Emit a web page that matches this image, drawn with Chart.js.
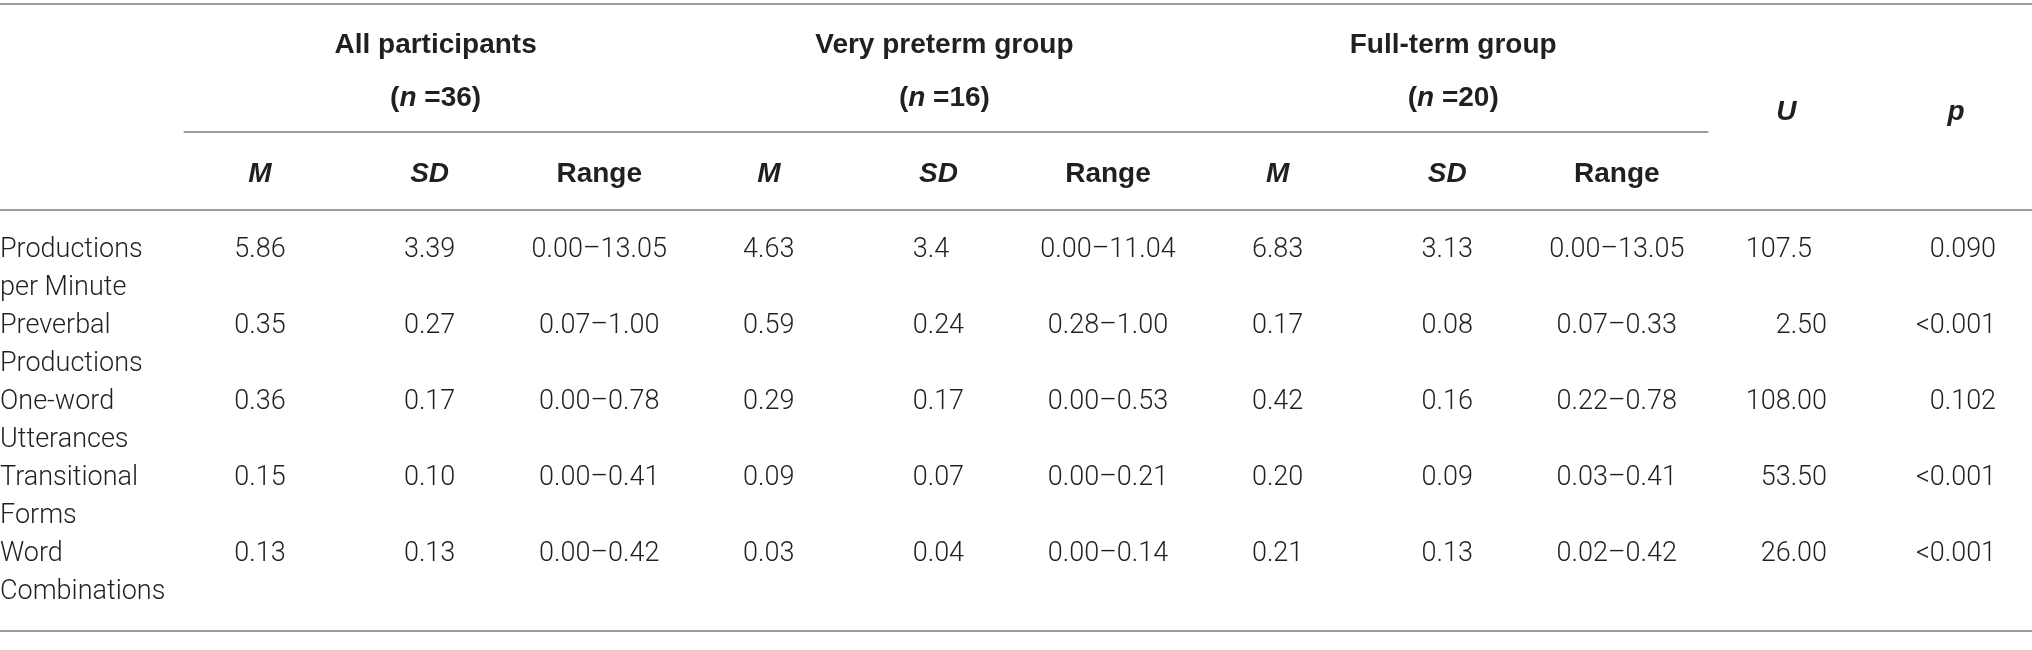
<!DOCTYPE html>
<html>
<head>
<meta charset="utf-8">
<script src="https://cdn.jsdelivr.net/npm/chart.js@4.4.1/dist/chart.umd.min.js"></script>
<style>
    html, body { margin: 0; padding: 0; background: #fff; }
    canvas { display: block; }
</style>
</head>
<body>
<canvas id="table" width="2032" height="650"></canvas>
<script>
// table content
const rowLabels = [
    ["Productions", "per Minute"],
    ["Preverbal", "Productions"],
    ["One-word", "Utterances"],
    ["Transitional", "Forms"],
    ["Word", "Combinations"],
];
const groupNames = ["All participants", "Very preterm group", "Full-term group"];
const groupSizes = [36, 16, 20];

const allM = ["5.86", "0.35", "0.36", "0.15", "0.13"];
const allSD = ["3.39", "0.27", "0.17", "0.10", "0.13"];
const allRange = ["0.00–13.05", "0.07–1.00", "0.00–0.78", "0.00–0.41", "0.00–0.42"];
const pretermM = ["4.63", "0.59", "0.29", "0.09", "0.03"];
const pretermSD = ["3.4", "0.24", "0.17", "0.07", "0.04"];
const pretermRange = ["0.00–11.04", "0.28–1.00", "0.00–0.53", "0.00–0.21", "0.00–0.14"];
const fulltermM = ["6.83", "0.17", "0.42", "0.20", "0.21"];
const fulltermSD = ["3.13", "0.08", "0.16", "0.09", "0.13"];
const fulltermRange = ["0.00–13.05", "0.07–0.33", "0.22–0.78", "0.03–0.41", "0.02–0.42"];
const uValues = ["107.5", "2.50", "108.00", "53.50", "26.00"];
const pValues = ["0.090", "<0.001", "0.102", "<0.001", "<0.001"];

// numbers line up on the decimal point, ranges are centred
const columns = [
    { key: "M1", head: "M", values: allM, align: "decimal" },
    { key: "SD1", head: "SD", values: allSD, align: "decimal" },
    { key: "R1", head: "Range", values: allRange, align: "center" },
    { key: "M2", head: "M", values: pretermM, align: "decimal" },
    { key: "SD2", head: "SD", values: pretermSD, align: "decimal" },
    { key: "R2", head: "Range", values: pretermRange, align: "center" },
    { key: "M3", head: "M", values: fulltermM, align: "decimal" },
    { key: "SD3", head: "SD", values: fulltermSD, align: "decimal" },
    { key: "R3", head: "Range", values: fulltermRange, align: "center" },
    { key: "U", head: "U", values: uValues, align: "decimal" },
    { key: "p", head: "p", values: pValues, align: "decimal" },
];
const rowKeys = rowLabels.map((label) => label.join(" "));

const TEXT = "#231f20";
const RULE = "#9c9c9c";
const BODY_FONT = "300 27px Roboto, 'Liberation Sans', sans-serif";
const HEAD_FONT = "bold 28px 'Liberation Sans', Roboto, sans-serif";
const HEAD_ITALIC = "italic bold 28px 'Liberation Sans', Roboto, sans-serif";

const layout = {
    topRule: 4,
    groupY: 45,
    sizeY: 98,
    groupRule: 132,
    statY: 174,
    sideHeadY: 112,
    statRule: 210,
    bottomRule: 631,
    lineGap: 38,
};

function drawPieces(ctx, pieces, cx, y) {
    let total = 0;
    pieces.forEach((piece) => {
        ctx.font = piece.font;
        total += ctx.measureText(piece.text).width;
    });
    let x = cx - total / 2;
    ctx.textAlign = "left";
    pieces.forEach((piece) => {
        ctx.font = piece.font;
        ctx.fillText(piece.text, x, y);
        x += ctx.measureText(piece.text).width;
    });
}

function splitDecimal(value) {
    const dot = value.indexOf(".");
    return dot < 0 ? [value, ""] : [value.slice(0, dot), value.slice(dot)];
}

const tablePlugin = {
    id: "tableText",
    afterDraw(chart) {
        const ctx = chart.ctx;
        const xScale = chart.scales.x;
        const yScale = chart.scales.y;
        const step = xScale.getPixelForValue(1) - xScale.getPixelForValue(0);
        const width = chart.width;

        ctx.save();
        ctx.fillStyle = TEXT;
        ctx.textBaseline = "middle";

        // rules
        ctx.strokeStyle = RULE;
        ctx.lineWidth = 2;
        [layout.topRule, layout.statRule, layout.bottomRule].forEach((y) => {
            ctx.beginPath();
            ctx.moveTo(0, y);
            ctx.lineTo(width, y);
            ctx.stroke();
        });
        const groupLeft = xScale.getPixelForValue(0) - step * 0.45;
        const groupRight = xScale.getPixelForValue(8) + step * 0.54;
        ctx.beginPath();
        ctx.moveTo(groupLeft, layout.groupRule);
        ctx.lineTo(groupRight, layout.groupRule);
        ctx.stroke();

        // group headers
        groupNames.forEach((name, g) => {
            const cx = (xScale.getPixelForValue(g * 3) + xScale.getPixelForValue(g * 3 + 2)) / 2 + 6;
            drawPieces(ctx, [{ text: name, font: HEAD_FONT }], cx, layout.groupY);
            drawPieces(ctx, [
                { text: "(", font: HEAD_FONT },
                { text: "n", font: HEAD_ITALIC },
                { text: " =" + groupSizes[g] + ")", font: HEAD_FONT },
            ], cx, layout.sizeY);
        });

        // column headers
        columns.forEach((col, i) => {
            const cx = xScale.getPixelForValue(i);
            const italic = col.head !== "Range";
            const y = i >= 9 ? layout.sideHeadY : layout.statY;
            drawPieces(ctx, [{ text: col.head, font: italic ? HEAD_ITALIC : HEAD_FONT }], cx, y);
        });

        // row labels
        ctx.font = BODY_FONT;
        ctx.textAlign = "left";
        rowLabels.forEach((label, r) => {
            const y = yScale.getPixelForValue(r);
            ctx.fillText(label[0], 0, y);
            ctx.fillText(label[1], 0, y + layout.lineGap);
        });

        // body cells
        columns.forEach((col, i) => {
            const cx = xScale.getPixelForValue(i);
            if (col.align === "center") {
                ctx.textAlign = "center";
                col.values.forEach((value, r) => {
                    ctx.fillText(value, cx, yScale.getPixelForValue(r));
                });
                return;
            }
            const parts = col.values.map(splitDecimal);
            const maxInt = Math.max(...parts.map((p) => ctx.measureText(p[0]).width));
            const maxFrac = Math.max(...parts.map((p) => ctx.measureText(p[1]).width));
            const dotX = cx - (maxInt + maxFrac) / 2 + maxInt;
            ctx.textAlign = "left";
            parts.forEach((p, r) => {
                ctx.fillText(p[0] + p[1], dotX - ctx.measureText(p[0]).width, yScale.getPixelForValue(r));
            });
        });
        ctx.restore();
    },
};

const cells = [];
columns.forEach((col) => {
    rowKeys.forEach((row) => {
        cells.push({ x: col.key, y: row });
    });
});

new Chart(document.getElementById("table"), {
    type: "scatter",
    data: {
        datasets: [{ data: cells, pointRadius: 0 }],
    },
    options: {
        responsive: false,
        animation: false,
        devicePixelRatio: 1,
        layout: { padding: { left: 260, right: 76, top: 250, bottom: 96 } },
        plugins: { legend: { display: false }, tooltip: { enabled: false } },
        scales: {
            x: { type: "category", labels: columns.map((c) => c.key), offset: false, display: false },
            y: { type: "category", labels: rowKeys, offset: false, display: false },
        },
    },
    plugins: [tablePlugin],
});
</script>
</body>
</html>
